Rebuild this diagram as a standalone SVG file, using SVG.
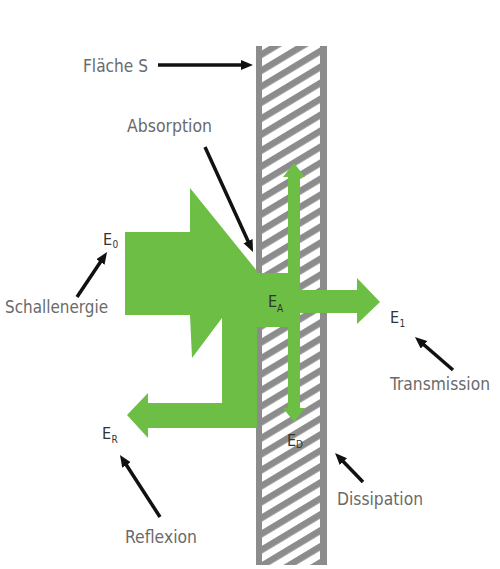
<svg xmlns="http://www.w3.org/2000/svg" width="500" height="569" viewBox="0 0 500 569">
<defs>
<pattern id="hatch" width="20" height="13.7" patternUnits="userSpaceOnUse" patternTransform="rotate(-31)">
<rect width="20" height="6.6" fill="#8c8c8c"/>
</pattern>
<marker id="ah" markerWidth="14" markerHeight="12" refX="4" refY="5" orient="auto" markerUnits="userSpaceOnUse">
<path d="M0,0 L12,5 L0,10 z" fill="#111"/>
</marker>
<style>
.lbl{font-family:"Liberation Sans Narrow","DejaVu Sans Condensed","Liberation Sans",sans-serif;font-size:18px;fill:#6a6a6a}
.e{font-family:"Liberation Sans Narrow","DejaVu Sans Condensed","Liberation Sans",sans-serif;font-size:16px;fill:#333}
.sub{font-family:"Liberation Sans Narrow","DejaVu Sans Condensed","Liberation Sans",sans-serif;font-size:10px;fill:#333}
.g{fill:#6cbe45}
.wb{fill:#8c8c8c}
.con{stroke:#111;stroke-width:3.5;fill:none;marker-end:url(#ah)}
</style>
</defs>
<rect width="500" height="569" fill="#fff"/>
<g id="wall">
<rect x="262" y="46" width="58" height="519" fill="url(#hatch)"/>
<rect class="wb" x="256" y="46" width="6" height="519"/>
<rect class="wb" x="320" y="46" width="7" height="519"/>
</g>
<g id="flows">
<path class="g" d="M125,232 L190,232 L190,188 L257,271 L257,428 L148,428 L148,438 L127,415 L148,393 L148,403 L222,403 L222,318 L192,358 L190,315 L125,315 Z"/>
<rect class="g" x="256" y="273" width="38" height="54"/>
<path class="g" d="M294,290 L357,290 L357,278 L380,302 L357,324 L357,313 L294,313 Z"/>
<path class="g" d="M288,177 L283,177 L294,163 L305,177 L300,177 L300,408 L305,408 L294,422 L283,408 L288,408 Z"/>
</g>
<g id="labels">
<text class="lbl" x="83" y="72" textLength="65" lengthAdjust="spacingAndGlyphs">Fläche S</text>
<text class="lbl" x="127" y="132" textLength="85" lengthAdjust="spacingAndGlyphs">Absorption</text>
<text class="lbl" x="5" y="313" textLength="103" lengthAdjust="spacingAndGlyphs">Schallenergie</text>
<text class="lbl" x="390" y="390" textLength="100" lengthAdjust="spacingAndGlyphs">Transmission</text>
<text class="lbl" x="337" y="505" textLength="86" lengthAdjust="spacingAndGlyphs">Dissipation</text>
<text class="lbl" x="125" y="543" textLength="72" lengthAdjust="spacingAndGlyphs">Reflexion</text>
<g id="e0"><text class="e" x="103" y="245">E</text><text class="sub" x="112.5" y="248">0</text></g>
<g id="ea"><text class="e" x="268" y="307">E</text><text class="sub" x="277" y="312">A</text></g>
<g id="e1"><text class="e" x="390" y="323">E</text><text class="sub" x="399.5" y="327">1</text></g>
<g id="ed"><text class="e" x="287" y="446">E</text><text class="sub" x="296" y="448">D</text></g>
<g id="er"><text class="e" x="102" y="439">E</text><text class="sub" x="111.5" y="443">R</text></g>
</g>
<g id="connectors">
<line class="con" x1="158" y1="65" x2="245" y2="65"/>
<line class="con" x1="205" y1="147" x2="249.7" y2="244.7"/>
<line class="con" x1="77" y1="297" x2="102.6" y2="258.7"/>
<line class="con" x1="453" y1="370" x2="421" y2="342.2"/>
<line class="con" x1="363" y1="482" x2="340.6" y2="458.8"/>
<line class="con" x1="160" y1="517" x2="124.3" y2="461.7"/>
</g>
</svg>
